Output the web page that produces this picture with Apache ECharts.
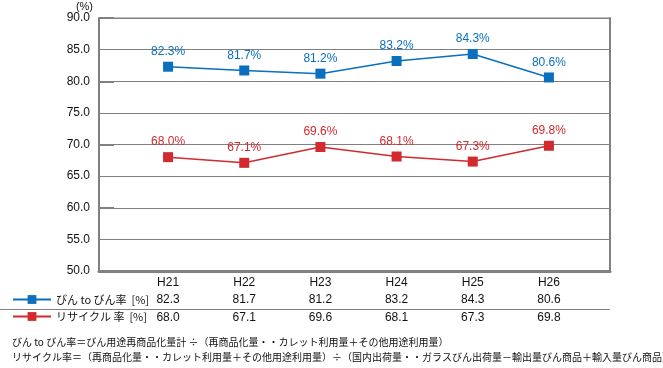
<!DOCTYPE html>
<html><head><meta charset="utf-8">
<script src="https://cdn.jsdelivr.net/npm/echarts@6/dist/echarts.min.js"></script>
<style>html,body{margin:0;padding:0;background:#fff}#c{width:663px;height:368px}</style>
</head><body><div id="c"></div>
<script>
var categories = ['H21','H22','H23','H24','H25','H26'];
var bottleRate = [82.3, 81.7, 81.2, 83.2, 84.3, 80.6];
var recycleRate = [68.0, 67.1, 69.6, 68.1, 67.3, 69.8];
var seriesNames = ['びん to びん率  [%]', 'リサイクル 率  [%]'];
var note1 = 'びん to びん率＝びん用途再商品化量計 ÷（再商品化量・・カレット利用量＋その他用途利用量）';
var note2 = 'リサイクル率＝（再商品化量・・カレット利用量＋その他用途利用量）÷（国内出荷量・・ガラスびん出荷量－輸出量びん商品＋輸入量びん商品）';

var FONT = '"Noto Sans CJK JP", "Liberation Sans", sans-serif';
var NUM = '"Liberation Sans", Arial, sans-serif';
var BLUE = '#0a6fbd', RED = '#d12a2f', GRAY = '#808080';
var chart = echarts.init(document.getElementById('c'));
var fmt1 = function(v){ return Number(v).toFixed(1); };
var tableLabel = {margin: 6, fontSize: 12, color: '#111', fontFamily: NUM};

chart.setOption({
  animation: false,
  textStyle: {fontFamily: FONT},
  grid: [
    {left: 99, right: 53, top: 18, bottom: 97, show: true, borderColor: GRAY, borderWidth: 1, outerBoundsMode: 'none', containLabel: false},
    {left: 130, right: 76, top: 18, bottom: 97, outerBoundsMode: 'none', containLabel: false}
  ],
  legend: {
    orient: 'vertical', left: 7, top: 289, itemGap: 6,
    itemWidth: 38, itemHeight: 11,
    textStyle: {fontSize: 11, color: '#111', fontFamily: FONT},
    data: seriesNames
  },
  xAxis: [
    {gridIndex: 0, type: 'value', min: 0, max: 1, show: true, position: 'bottom',
     axisLine: {show: true, lineStyle: {color: GRAY, width: 3}},
     axisTick: {show: false}, axisLabel: {show: false}, splitLine: {show: false}},
    {gridIndex: 1, type: 'category', data: categories, boundaryGap: true, position: 'bottom', offset: 0,
     axisLine: {show: false}, axisTick: {show: false}, axisLabel: tableLabel},
    {gridIndex: 1, type: 'category', data: bottleRate.map(fmt1), boundaryGap: true, position: 'bottom', offset: 17,
     axisLine: {show: false}, axisTick: {show: false}, axisLabel: tableLabel},
    {gridIndex: 1, type: 'category', data: recycleRate.map(fmt1), boundaryGap: true, position: 'bottom', offset: 35,
     axisLine: {show: false}, axisTick: {show: false}, axisLabel: tableLabel}
  ],
  yAxis: [
    {gridIndex: 0, type: 'value', min: 50, max: 90, interval: 5,
     name: '(%)', nameGap: 6,
     nameTextStyle: {align: 'right', padding: [0, 6, 0, 0], fontSize: 11, color: '#111', fontFamily: NUM},
     axisLine: {show: true, lineStyle: {color: GRAY, width: 2}},
     axisTick: {show: false},
     axisLabel: {formatter: fmt1, fontSize: 12, color: '#111', margin: 9, fontFamily: NUM},
     splitLine: {show: true, lineStyle: {color: GRAY, width: 1}}},
    {gridIndex: 0, type: 'value', min: 50, max: 90, interval: 10, position: 'left',
     axisLine: {show: false},
     axisTick: {show: true, inside: true, length: 15, lineStyle: {color: GRAY, width: 2}},
     axisLabel: {show: false}, splitLine: {show: false}},
    {gridIndex: 0, type: 'value', min: 50, max: 90, position: 'right',
     axisLine: {show: true, lineStyle: {color: GRAY, width: 2}},
     axisTick: {show: false}, axisLabel: {show: false}, splitLine: {show: false}},
    {gridIndex: 1, type: 'value', min: 50, max: 90, show: false}
  ],
  series: [
    {name: seriesNames[0], type: 'line', xAxisIndex: 1, yAxisIndex: 3, data: bottleRate,
     symbol: 'rect', symbolSize: 10, color: BLUE,
     lineStyle: {color: BLUE, width: 1.5}, itemStyle: {color: BLUE},
     label: {show: true, position: 'top', distance: 4, color: BLUE, fontSize: 12, fontFamily: NUM,
             formatter: function(p){ return p.value.toFixed(1) + '%'; }}},
    {name: seriesNames[1], type: 'line', xAxisIndex: 1, yAxisIndex: 3, data: recycleRate,
     symbol: 'rect', symbolSize: 10, color: RED,
     lineStyle: {color: RED, width: 1.5}, itemStyle: {color: RED},
     label: {show: true, position: 'top', distance: 4, color: RED, fontSize: 12, fontFamily: NUM,
             formatter: function(p){ return p.value.toFixed(1) + '%'; }}}
  ],
  graphic: [
    {type: 'line', shape: {x1: 0, y1: 309.5, x2: 610, y2: 309.5}, style: {stroke: GRAY, lineWidth: 1}},
    {type: 'text', left: 12, top: 337, style: {text: note1, font: '10px ' + FONT, fill: '#111'}},
    {type: 'text', left: 12, top: 352, style: {text: note2, font: '10px ' + FONT, fill: '#111'}}
  ]
});
</script></body></html>
